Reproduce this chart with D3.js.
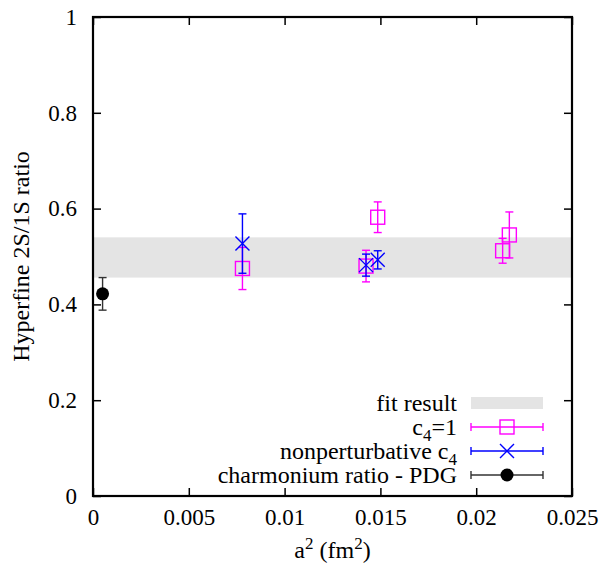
<!DOCTYPE html>
<html><head><meta charset="utf-8">
<script src="https://cdn.jsdelivr.net/npm/d3@7"></script>
<style>body{margin:0;background:#fff;} svg text{font-family:"Liberation Serif","Times New Roman",serif !important;}</style>
</head><body>
<svg id="c" width="611" height="569"></svg>
<script>
const xTicks = [0, 0.005, 0.01, 0.015, 0.02, 0.025];
const xTickLabels = ["0", "0.005", "0.01", "0.015", "0.02", "0.025"];
const yTicks = [0, 0.2, 0.4, 0.6, 0.8, 1];
const yTickLabels = ["0", "0.2", "0.4", "0.6", "0.8", "1"];
const fitBand = [0.456, 0.540];
const c4One_a2 = [0.0078, 0.01425, 0.01486, 0.02138, 0.02173];
const c4One_ratio = [0.475, 0.480, 0.582, 0.512, 0.545];
const c4One_err = [0.044, 0.033, 0.032, 0.026, 0.048];
const npc4_a2 = [0.0078, 0.01425, 0.01486];
const npc4_ratio = [0.527, 0.482, 0.493];
const npc4_err = [0.062, 0.023, 0.019];
const pdg_a2 = [0.0005];
const pdg_ratio = [0.422];
const pdg_err = [0.034];

const m = {l: 93, t: 17, r: 572, b: 496};
const svg = d3.select("#c");
const x = d3.scaleLinear().domain([0, 0.025]).range([m.l, m.r]);
const y = d3.scaleLinear().domain([0, 1]).range([m.b, m.t]);
const FS = 24, TFS = 23, SUB = 17;

svg.append("rect").attr("x", m.l).attr("width", m.r - m.l)
  .attr("y", y(fitBand[1])).attr("height", y(fitBand[0]) - y(fitBand[1]))
  .attr("fill", "#e4e4e4");

function errbars(g, xs, ys, es, color) {
  const cap = 4;
  xs.forEach((xv, i) => {
    const cx = x(xv), y1 = y(ys[i] + es[i]), y0 = y(ys[i] - es[i]);
    g.append("line").attr("x1", cx).attr("x2", cx).attr("y1", y1).attr("y2", y0);
    g.append("line").attr("x1", cx - cap).attr("x2", cx + cap).attr("y1", y1).attr("y2", y1);
    g.append("line").attr("x1", cx - cap).attr("x2", cx + cap).attr("y1", y0).attr("y2", y0);
  });
  g.attr("stroke", color).attr("stroke-width", 1.4).attr("fill", "none");
}
function square(g, cx, cy, color) {
  g.append("rect").attr("x", cx - 7).attr("y", cy - 7).attr("width", 14).attr("height", 14)
    .attr("fill", "none").attr("stroke", color).attr("stroke-width", 1.4);
}
function cross(g, cx, cy, color) {
  const s = 7;
  g.append("path").attr("d", `M${cx-s},${cy-s}L${cx+s},${cy+s}M${cx-s},${cy+s}L${cx+s},${cy-s}`)
    .attr("stroke", color).attr("stroke-width", 1.4).attr("fill", "none");
}

const magenta = "#ff00ff", blue = "#0000ff", dark = "#333333";
const gm = svg.append("g");
errbars(gm.append("g"), c4One_a2, c4One_ratio, c4One_err, magenta);
c4One_a2.forEach((xv, i) => square(gm, x(xv), y(c4One_ratio[i]), magenta));
const gb = svg.append("g");
errbars(gb.append("g"), npc4_a2, npc4_ratio, npc4_err, blue);
npc4_a2.forEach((xv, i) => cross(gb, x(xv), y(npc4_ratio[i]), blue));
const gp = svg.append("g");
errbars(gp.append("g"), pdg_a2, pdg_ratio, pdg_err, dark);
pdg_a2.forEach((xv, i) => gp.append("circle").attr("cx", x(xv)).attr("cy", y(pdg_ratio[i])).attr("r", 6.5).attr("fill", "#000"));

const tk = 8;
const axB = d3.axisBottom(x).tickValues(xTicks).tickFormat((d, i) => xTickLabels[i]).tickSizeInner(-tk).tickSizeOuter(0).tickPadding(13);
const axT = d3.axisTop(x).tickValues(xTicks).tickFormat("").tickSizeInner(-tk).tickSizeOuter(0);
const axL = d3.axisLeft(y).tickValues(yTicks).tickFormat((d, i) => yTickLabels[i]).tickSizeInner(-tk).tickSizeOuter(0).tickPadding(16);
const axR = d3.axisRight(y).tickValues(yTicks).tickFormat("").tickSizeInner(-tk).tickSizeOuter(0);
[[axB, `translate(0,${m.b})`], [axT, `translate(0,${m.t})`], [axL, `translate(${m.l},0)`], [axR, `translate(${m.r},0)`]].forEach(([a, t]) => {
  const g = svg.append("g").attr("transform", t).call(a);
  g.attr("font-family", null).attr("font-size", null);
  g.select(".domain").remove();
  g.selectAll("line").attr("stroke", "#000").attr("stroke-width", 1.5);
  g.selectAll("text").attr("font-size", TFS).attr("fill", "#000");
});
svg.append("rect").attr("x", m.l).attr("y", m.t).attr("width", m.r - m.l).attr("height", m.b - m.t)
  .attr("fill", "none").attr("stroke", "#000").attr("stroke-width", 2.2);

svg.append("text").attr("transform", `translate(29,${(m.t + m.b) / 2}) rotate(-90)`)
  .attr("text-anchor", "middle").attr("font-size", FS).text("Hyperfine 2S/1S ratio");
const xl = svg.append("text").attr("x", (m.l + m.r) / 2).attr("y", 558).attr("text-anchor", "middle").attr("font-size", FS);
xl.append("tspan").text("a");
xl.append("tspan").attr("dy", -9).attr("font-size", SUB).text("2");
xl.append("tspan").attr("dy", 9).text(" (fm");
xl.append("tspan").attr("dy", -9).attr("font-size", SUB).text("2");
xl.append("tspan").attr("dy", 9).text(")");

const legendLabels = ["fit result", "c4=1", "nonperturbative c4", "charmonium ratio - PDG"];
const legY = [403, 427, 451, 475];
const lx0 = 471, lx1 = 543, lxm = 507, textX = 457;
const lg = svg.append("g");
legendLabels.forEach((lab, i) => {
  const t = lg.append("text").attr("x", textX).attr("y", legY[i] + 8).attr("text-anchor", "end").attr("font-size", FS);
  if (i === 1) {
    t.append("tspan").text("c");
    t.append("tspan").attr("dy", 6).attr("font-size", SUB).text("4");
    t.append("tspan").attr("dy", -6).text("=1");
  } else if (i === 2) {
    t.append("tspan").text("nonperturbative c");
    t.append("tspan").attr("dy", 6).attr("font-size", SUB).text("4");
  } else t.text(lab);
});
lg.append("rect").attr("x", lx0).attr("y", legY[0] - 6).attr("width", lx1 - lx0).attr("height", 12).attr("fill", "#e4e4e4");
[[magenta, 1], [blue, 2], [dark, 3]].forEach(([c, i]) => {
  const yy = legY[i];
  const g = lg.append("g").attr("stroke", c).attr("stroke-width", 1.4);
  g.append("line").attr("x1", lx0).attr("x2", lx1).attr("y1", yy).attr("y2", yy);
  g.append("line").attr("x1", lx0).attr("x2", lx0).attr("y1", yy - 4).attr("y2", yy + 4);
  g.append("line").attr("x1", lx1).attr("x2", lx1).attr("y1", yy - 4).attr("y2", yy + 4);
});
square(lg, lxm, legY[1], magenta);
cross(lg, lxm, legY[2], blue);
lg.append("circle").attr("cx", lxm).attr("cy", legY[3]).attr("r", 6.5).attr("fill", "#000");
</script>
</body></html>
